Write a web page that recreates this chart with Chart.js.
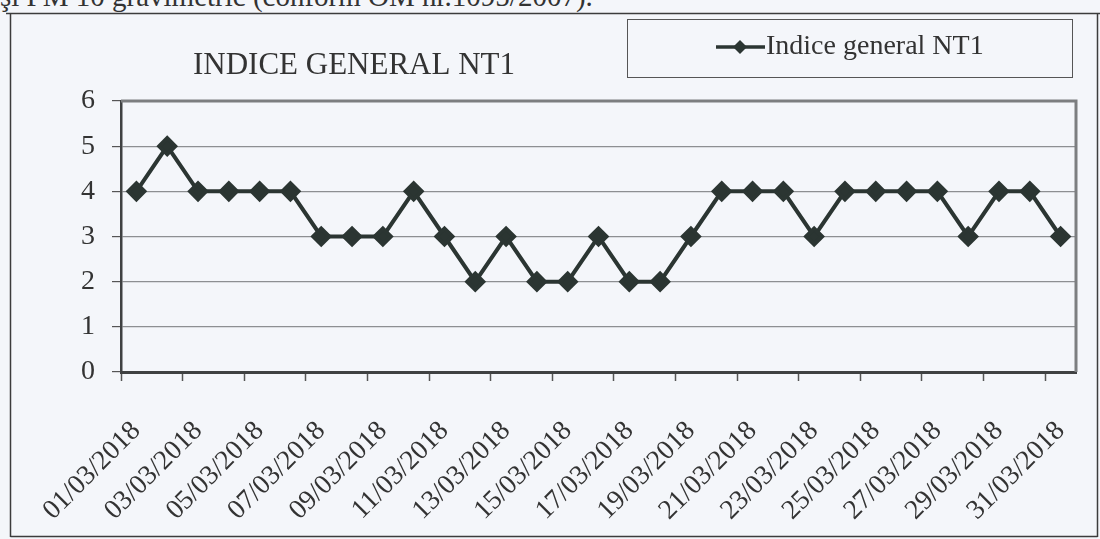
<!DOCTYPE html>
<html>
<head>
<meta charset="utf-8">
<script src="https://cdn.jsdelivr.net/npm/chart.js@4.4.0/dist/chart.umd.min.js"></script>
<style>
  html, body { margin:0; padding:0; background:#f4f6fa; overflow:hidden; }
  #wrap { position:relative; width:1100px; height:539px; }
  #caption { position:absolute; left:0; top:-18px; font:29px "Liberation Serif", serif; line-height:28px; color:#333; white-space:nowrap; }
  canvas { position:absolute; left:0; top:0; }
</style>
</head>
<body>
<div id="wrap">
  <div id="caption">şi PM 10 gravimetric (conform OM nr.1095/2007).</div>
  <canvas id="c" width="1100" height="539"></canvas>
</div>
<script>
'use strict';

// data
const TITLE = 'INDICE GENERAL NT1';
const SERIES_LABEL = 'Indice general NT1';
const DAYS = [
  '01/03/2018','02/03/2018','03/03/2018','04/03/2018','05/03/2018','06/03/2018',
  '07/03/2018','08/03/2018','09/03/2018','10/03/2018','11/03/2018','12/03/2018',
  '13/03/2018','14/03/2018','15/03/2018','16/03/2018','17/03/2018','18/03/2018',
  '19/03/2018','20/03/2018','21/03/2018','22/03/2018','23/03/2018','24/03/2018',
  '25/03/2018','26/03/2018','27/03/2018','28/03/2018','29/03/2018','30/03/2018',
  '31/03/2018'
];
const NT1 = [4,5,4,4,4,4,3,3,3,4,3,2,3,2,2,3,2,2,3,4,4,4,3,4,4,4,4,3,4,4,3];
const Y_TICKS = [0,1,2,3,4,5,6];

const INK  = '#2b3532';
const GRID = '#8d8f92';
const FONT = '"Liberation Serif", "Times New Roman", serif';

// outer frame, title, legend box and the grey plot border
const decor = {
  id: 'decor',
  beforeDraw(chart) {
    const ctx = chart.ctx;
    ctx.save();
    ctx.strokeStyle = '#3c3c3c';
    ctx.lineWidth = 1.5;
    ctx.beginPath();
    ctx.moveTo(6, 13.5);  ctx.lineTo(1100, 13.5);
    ctx.moveTo(10.5, 13.5); ctx.lineTo(10.5, 537);
    ctx.moveTo(1097.5, 13.5); ctx.lineTo(1097.5, 537);
    ctx.moveTo(10.5, 536.5); ctx.lineTo(1097.5, 536.5);
    ctx.stroke();
    ctx.restore();
  },
  afterDraw(chart) {
    const ctx = chart.ctx, a = chart.chartArea;
    ctx.save();
    // top + right plot border
    ctx.strokeStyle = '#7c7e80';
    ctx.lineWidth = 3;
    ctx.beginPath();
    ctx.moveTo(a.left, a.top); ctx.lineTo(a.right, a.top); ctx.lineTo(a.right, a.bottom);
    ctx.stroke();

    // title
    ctx.fillStyle = '#333';
    ctx.font = '31px ' + FONT;
    ctx.textAlign = 'center';
    ctx.textBaseline = 'middle';
    ctx.fillText(TITLE, 354, 66);

    // legend
    const ds = chart.data.datasets[0];
    ctx.strokeStyle = '#555';
    ctx.lineWidth = 1;
    ctx.strokeRect(627.5, 19.5, 445, 58);
    ctx.strokeStyle = ds.borderColor;
    ctx.lineWidth = 3.5;
    ctx.beginPath(); ctx.moveTo(716, 47); ctx.lineTo(765, 47); ctx.stroke();
    ctx.fillStyle = ds.borderColor;
    ctx.beginPath();
    ctx.moveTo(740, 40); ctx.lineTo(747, 47); ctx.lineTo(740, 54); ctx.lineTo(733, 47);
    ctx.closePath(); ctx.fill();
    ctx.fillStyle = '#333';
    ctx.font = '28px ' + FONT;
    ctx.textAlign = 'left';
    ctx.fillText(ds.label, 766, 47);
    ctx.restore();
  }
};

new Chart(document.getElementById('c'), {
  type: 'line',
  data: {
    labels: DAYS,
    datasets: [{
      label: SERIES_LABEL,
      data: NT1,
      borderColor: INK,
      backgroundColor: INK,
      borderWidth: 4,
      pointStyle: 'rectRot',
      pointRadius: 8,
      pointHoverRadius: 8,
      tension: 0
    }]
  },
  options: {
    responsive: false,
    animation: false,
    layout: { padding: { left: 0, right: 24, top: 101, bottom: 0 } },
    plugins: { legend: { display: false }, title: { display: false }, tooltip: { enabled: false } },
    scales: {
      x: {
        offset: true,
        afterFit: s => { s.height = 167; s.paddingLeft = 0; s.paddingRight = 0; },
        border: { color: '#3f4142', width: 3 },
        grid: {
          offset: true,
          drawOnChartArea: false,
          tickLength: 9,
          tickWidth: 1.5,
          tickColor: c => (c.index % 2 === 0 ? '#555' : 'transparent')
        },
        ticks: {
          autoSkip: false,
          minRotation: 45,
          maxRotation: 45,
          padding: 34,
          color: '#333',
          font: { family: FONT, size: 27.5 },
          callback: function (v, i) { return i % 2 === 0 ? this.getLabelForValue(v) : ''; }
        }
      },
      y: {
        min: Y_TICKS[0],
        max: Y_TICKS[Y_TICKS.length - 1],
        afterFit: s => { s.width = 121; },
        afterBuildTicks: s => { s.ticks = Y_TICKS.map(v => ({ value: v })); },
        border: { color: '#3f4142', width: 2.5 },
        grid: {
          color: c => (c.tick.value === 0 || c.tick.value === 6 ? 'transparent' : GRID),
          lineWidth: 1.2,
          tickLength: 9,
          tickColor: '#555'
        },
        ticks: {
          padding: 17,
          color: '#333',
          font: { family: FONT, size: 28 }
        }
      }
    }
  },
  plugins: [decor]
});
</script>
</body>
</html>
